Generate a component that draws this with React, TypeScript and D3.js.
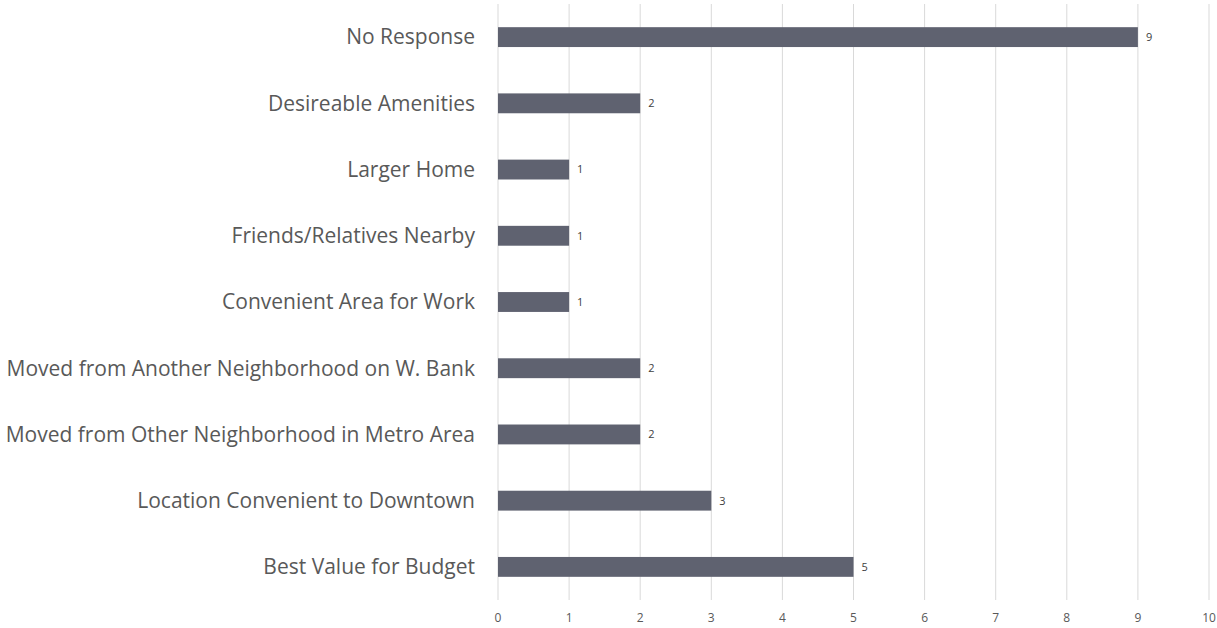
import React from "react";
import * as d3 from "d3";

const categories = [
  "No Response",
  "Desireable Amenities",
  "Larger Home",
  "Friends/Relatives Nearby",
  "Convenient Area for Work",
  "Moved from Another Neighborhood on W. Bank",
  "Moved from Other Neighborhood in Metro Area",
  "Location Convenient to Downtown",
  "Best Value for Budget",
];
const values = [9, 2, 1, 1, 1, 2, 2, 3, 5];
const xTicks = [0, 1, 2, 3, 4, 5, 6, 7, 8, 9, 10];

const W = 1217;
const H = 628;
const left = 498;
const right = 1209;
const top = 4;
const bottom = 600;
const FONT = "'Open Sans', 'Noto Sans', sans-serif";

export default function App() {
  const x = d3.scaleLinear().domain([0, 10]).range([left, right]);
  const y = d3.scaleBand<string>().domain(categories).range([top, bottom]).paddingInner(0.7).paddingOuter(0.35);
  const bw = y.bandwidth();
  return (
    <svg width={W} height={H} style={{ position: "absolute", left: 0, top: 0, background: "#fff" }}>
      {xTicks.map((t) => (
        <line key={"g" + t} x1={x(t)} x2={x(t)} y1={top} y2={bottom} stroke="#d9d9d9" strokeWidth={1} />
      ))}
      {xTicks.map((t) => (
        <text key={"t" + t} x={x(t)} y={622} textAnchor="middle" fontFamily={FONT} fontSize={12} fill="#595959">
          {t}
        </text>
      ))}
      {categories.map((c, i) => {
        const yc = (y(c) as number) + bw / 2;
        return (
          <g key={c}>
            <rect x={x(0)} y={y(c) as number} width={x(values[i]) - x(0)} height={bw} fill="#5f6270" />
            <text x={x(values[i]) + 8} y={yc} dy="0.35em" fontFamily={FONT} fontSize={11} fill="#404040">
              {values[i]}
            </text>
            <text x={475} y={yc} dy="0.35em" textAnchor="end" fontFamily={FONT} fontSize={21} fill="#595959">
              {c}
            </text>
          </g>
        );
      })}
    </svg>
  );
}
